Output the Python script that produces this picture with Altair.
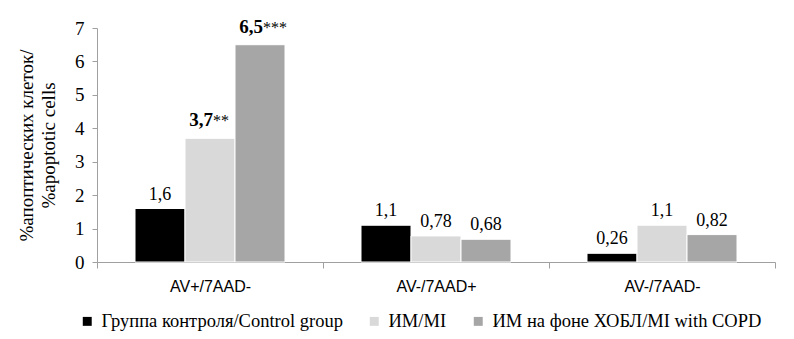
import altair as alt
import pandas as pd

categories = ["AV+/7AAD-", "AV-/7AAD+", "AV-/7AAD-"]
series = ["Группа контроля/Control group", "ИМ/MI", "ИМ на фоне ХОБЛ/MI with COPD"]
colors = ["#000000", "#d9d9d9", "#a6a6a6"]
values = {
    "Группа контроля/Control group": [1.6, 1.1, 0.26],
    "ИМ/MI": [3.7, 0.78, 1.1],
    "ИМ на фоне ХОБЛ/MI with COPD": [6.5, 0.68, 0.82],
}
labels = {
    "Группа контроля/Control group": ["1,6", "1,1", "0,26"],
    "ИМ/MI": ["3,7", "0,78", "1,1"],
    "ИМ на фоне ХОБЛ/MI with COPD": ["6,5", "0,68", "0,82"],
}
stars = {
    "Группа контроля/Control group": ["", "", ""],
    "ИМ/MI": ["**", "", ""],
    "ИМ на фоне ХОБЛ/MI with COPD": ["***", "", ""],
}
y_title = ["%апоптических клеток/", "%apoptotic cells"]

rows = []
for s in series:
    for i, c in enumerate(categories):
        rows.append({"category": c, "series": s, "value": values[s][i],
                     "label": labels[s][i], "star": stars[s][i]})
df = pd.DataFrame(rows)

serif = "Liberation Serif, serif"
sans = "Liberation Sans, Arial, sans-serif"

base = alt.Chart(df).encode(
    x=alt.X("category:N", sort=categories,
            scale=alt.Scale(paddingInner=0, paddingOuter=0),
            axis=alt.Axis(title=None, labelAngle=0, labelFont=sans,
                          labelFontSize=16, labelColor="#000000", labelPadding=10,
                          tickBand="extent", tickSize=6, tickColor="#a0a0a0",
                          domainColor="#a0a0a0")),
    xOffset=alt.XOffset("series:N", sort=series,
                        scale=alt.Scale(paddingInner=0, paddingOuter=0.76)),
    y=alt.Y("value:Q", scale=alt.Scale(domain=[0, 7], nice=False),
            axis=alt.Axis(title=y_title, values=[0, 1, 2, 3, 4, 5, 6, 7], grid=False,
                          labelFont=serif, labelFontSize=19, labelColor="#000000",
                          labelPadding=8, tickSize=5, tickColor="#a0a0a0",
                          domainColor="#a0a0a0", titleFont=serif, titleFontSize=19,
                          titleFontWeight="normal", titleColor="#000000",
                          titleAngle=-90, titleX=-71, titleY=117, titleAlign="center",
                          titleBaseline="middle", titleLineHeight=22)),
)

bars = base.mark_bar(stroke="white", strokeWidth=1).encode(
    color=alt.Color("series:N", sort=series,
                    scale=alt.Scale(domain=series, range=colors),
                    legend=alt.Legend(title=None, orient="none", legendX=-19, legendY=284,
                                      direction="horizontal", symbolType="square",
                                      symbolSize=80, symbolStrokeWidth=0,
                                      labelFont=serif, labelFontSize=18.5,
                                      labelColor="#000000", labelOffset=5,
                                      columnPadding=22, labelLimit=400))
)

normal_text = base.mark_text(baseline="alphabetic", dy=-9, font=serif, fontSize=18,
                             color="#000000").encode(text="label:N").transform_filter(
    'datum.star == ""')
bold_text = base.mark_text(baseline="alphabetic", align="right", dx=3, dy=-12, font=serif,
                           fontSize=19, fontWeight="bold", color="#000000").encode(
    text="label:N").transform_filter('datum.star != ""')
star_text = base.mark_text(baseline="alphabetic", align="left", dx=3, dy=-12, font=serif,
                           fontSize=16, color="#000000").encode(
    text="star:N").transform_filter('datum.star != ""')

chart = alt.layer(bars, normal_text, bold_text, star_text).properties(
    width=678, height=234,
    autosize=alt.AutoSizeParams(type="none"),
    padding={"left": 97, "top": 28, "right": 19, "bottom": 77},
).configure(font=serif).configure_view(stroke=None).configure_legend(
    labelFont=serif).configure_axis(titleFont=serif)

chart.save("out.html", embed_options={"renderer": "svg", "actions": False})
